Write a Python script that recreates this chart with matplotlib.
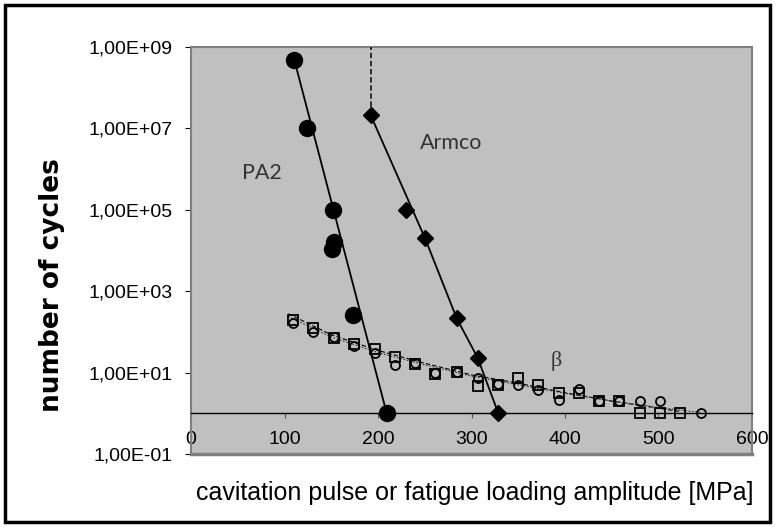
import numpy as np
import matplotlib.pyplot as plt
from matplotlib.patches import Rectangle

# PA2 (cavitation pulses)
pa2_x = [110.5, 124.4, 151.5, 153.3, 150.5, 173.6, 209.3]
pa2_y = [4.8e8, 1.0e7, 1.0e5, 1.6e4, 1.1e4, 260, 1.0]
pa2_line_x = [110.5, 209.3]
pa2_line_y = [4.8e8, 1.0]

# Armco (fatigue)
arm_x = [192.2, 229.6, 250.3, 284.2, 306.6, 328.7]
arm_y = [2.1e7, 1.0e5, 2.0e4, 215, 23, 1.0]
arm_line_x = [192.2, 250.3, 284.2, 306.6, 328.7]
arm_line_y = [2.1e7, 2.0e4, 215, 23, 1.0]
arm_limit_x = [192.2, 192.2]
arm_limit_y = [2.1e7, 1e9]

# beta, squares and circles
sq_x = [109.4, 130, 153, 174.3, 196.8, 218.2, 240, 261, 284, 306.5, 328, 349.4,
        370.8, 394, 415.3, 436.7, 458, 480, 502, 523.5]
sq_y = [195, 124, 69, 50, 37, 24.6, 16.3, 9.4, 10.5, 4.8, 5.0, 7.2,
        5.0, 3.1, 3.1, 2.0, 2.0, 1.0, 1.0, 1.0]
ci_x = [109.4, 130, 153, 174.3, 196.8, 218.2, 240, 261, 284, 306.5, 328, 349.4,
        370.8, 394, 415.3, 436.7, 458, 480, 502, 545]
ci_y = [162, 98, 74, 44, 30, 15.6, 17, 10, 10.5, 7.2, 5.2, 5.0,
        3.7, 2.1, 3.9, 2.0, 2.0, 2.0, 2.0, 1.0]
sq_trend_x = [104, 150, 200, 250, 300, 350, 400, 450, 524]
sq_trend_y = [280, 85, 35, 17, 8.8, 5.5, 3.2, 2.0, 1.1]
ci_trend_x = [104, 150, 200, 250, 300, 350, 400, 450, 500, 545]
ci_trend_y = [240, 75, 31, 15.5, 8.2, 5.0, 3.1, 2.0, 1.4, 1.05]

x_ticks = [0, 100, 200, 300, 400, 500, 600]
y_ticks = [1e-1, 1e1, 1e3, 1e5, 1e7, 1e9]
y_labels = ["1,00E-01", "1,00E+01", "1,00E+03", "1,00E+05", "1,00E+07", "1,00E+09"]

fig = plt.figure(figsize=(7.75, 5.27), dpi=100)
ax = fig.add_axes([0.2465, 0.1385, 0.7238, 0.7723])
ax.set_facecolor("#c0c0c0")
ax.set_yscale("log")
ax.set_xlim(0, 600)
ax.set_ylim(1e-1, 1e9)

for s in ["left", "top", "right"]:
    ax.spines[s].set_color("#7f7f7f")
    ax.spines[s].set_linewidth(1.5)
ax.spines["bottom"].set_position(("data", 1))
ax.spines["bottom"].set_color("black")
ax.spines["bottom"].set_linewidth(1.0)
ax.axhline(1e-1, color="#7f7f7f", lw=2.5, clip_on=False, zorder=5)

tick_font = dict(family="Liberation Sans", size=14)
ax.set_xticks(x_ticks)
ax.set_xticklabels([str(v) for v in x_ticks], **tick_font)
ax.set_yticks(y_ticks)
ax.set_yticklabels(y_labels, **tick_font)
ax.yaxis.set_minor_locator(plt.NullLocator())
ax.tick_params(axis="x", direction="out", length=3.5, width=0.8, pad=9, color="#555555")
ax.tick_params(axis="y", direction="out", length=4.5, width=0.8, pad=9)

# trend lines of beta
ax.plot(sq_trend_x, sq_trend_y, color="black", lw=0.8, ls=(0, (4, 2)), zorder=3)
ax.plot(ci_trend_x, ci_trend_y, color="#333333", lw=0.8, ls=(0, (1.5, 1.5)), zorder=3)
ax.plot(sq_x, sq_y, ls="none", marker="s", ms=6.5, mfc="none", mec="black", mew=1.3, zorder=4)
ax.plot(ci_x, ci_y, ls="none", marker="o", ms=6.5, mfc="none", mec="black", mew=1.3, zorder=4)

# PA2
ax.plot(pa2_line_x, pa2_line_y, color="black", lw=1.3, zorder=4)
ax.plot(pa2_x, pa2_y, ls="none", marker="o", ms=11.5, color="black", zorder=5)

# Armco
ax.plot(arm_limit_x, arm_limit_y, color="#222222", lw=1.3, ls=(0, (3, 1.5)), zorder=4)
ax.plot(arm_line_x, arm_line_y, color="black", lw=1.3, zorder=4)
ax.plot(arm_x, arm_y, ls="none", marker="D", ms=8.5, color="black", zorder=5)

ax.text(75.6, 8.1e5, "PA2", family="Lato", fontsize=15.5, color="#333333", ha="center", va="center")
ax.text(277.9, 4.4e6, "Armco", family="Lato", fontsize=15.5, color="#333333", ha="center", va="center")
ax.text(390.4, 19.4, "β", family="Liberation Serif", fontsize=16, color="#333333", ha="center", va="center")

fig.text(0.613, 0.0645, "cavitation pulse or fatigue loading amplitude [MPa]",
         family="Liberation Sans", fontsize=18, ha="center", va="center")
fig.text(0.067, 0.459, "number of cycles", family="DejaVu Sans", weight="bold",
         fontsize=19, rotation=90, ha="center", va="center")

fig.patches.append(Rectangle((5 / 775, 5 / 527), 765 / 775, 517 / 527, transform=fig.transFigure,
                             fill=False, edgecolor="black", lw=2.5))

fig.savefig("out.png", dpi=100)
